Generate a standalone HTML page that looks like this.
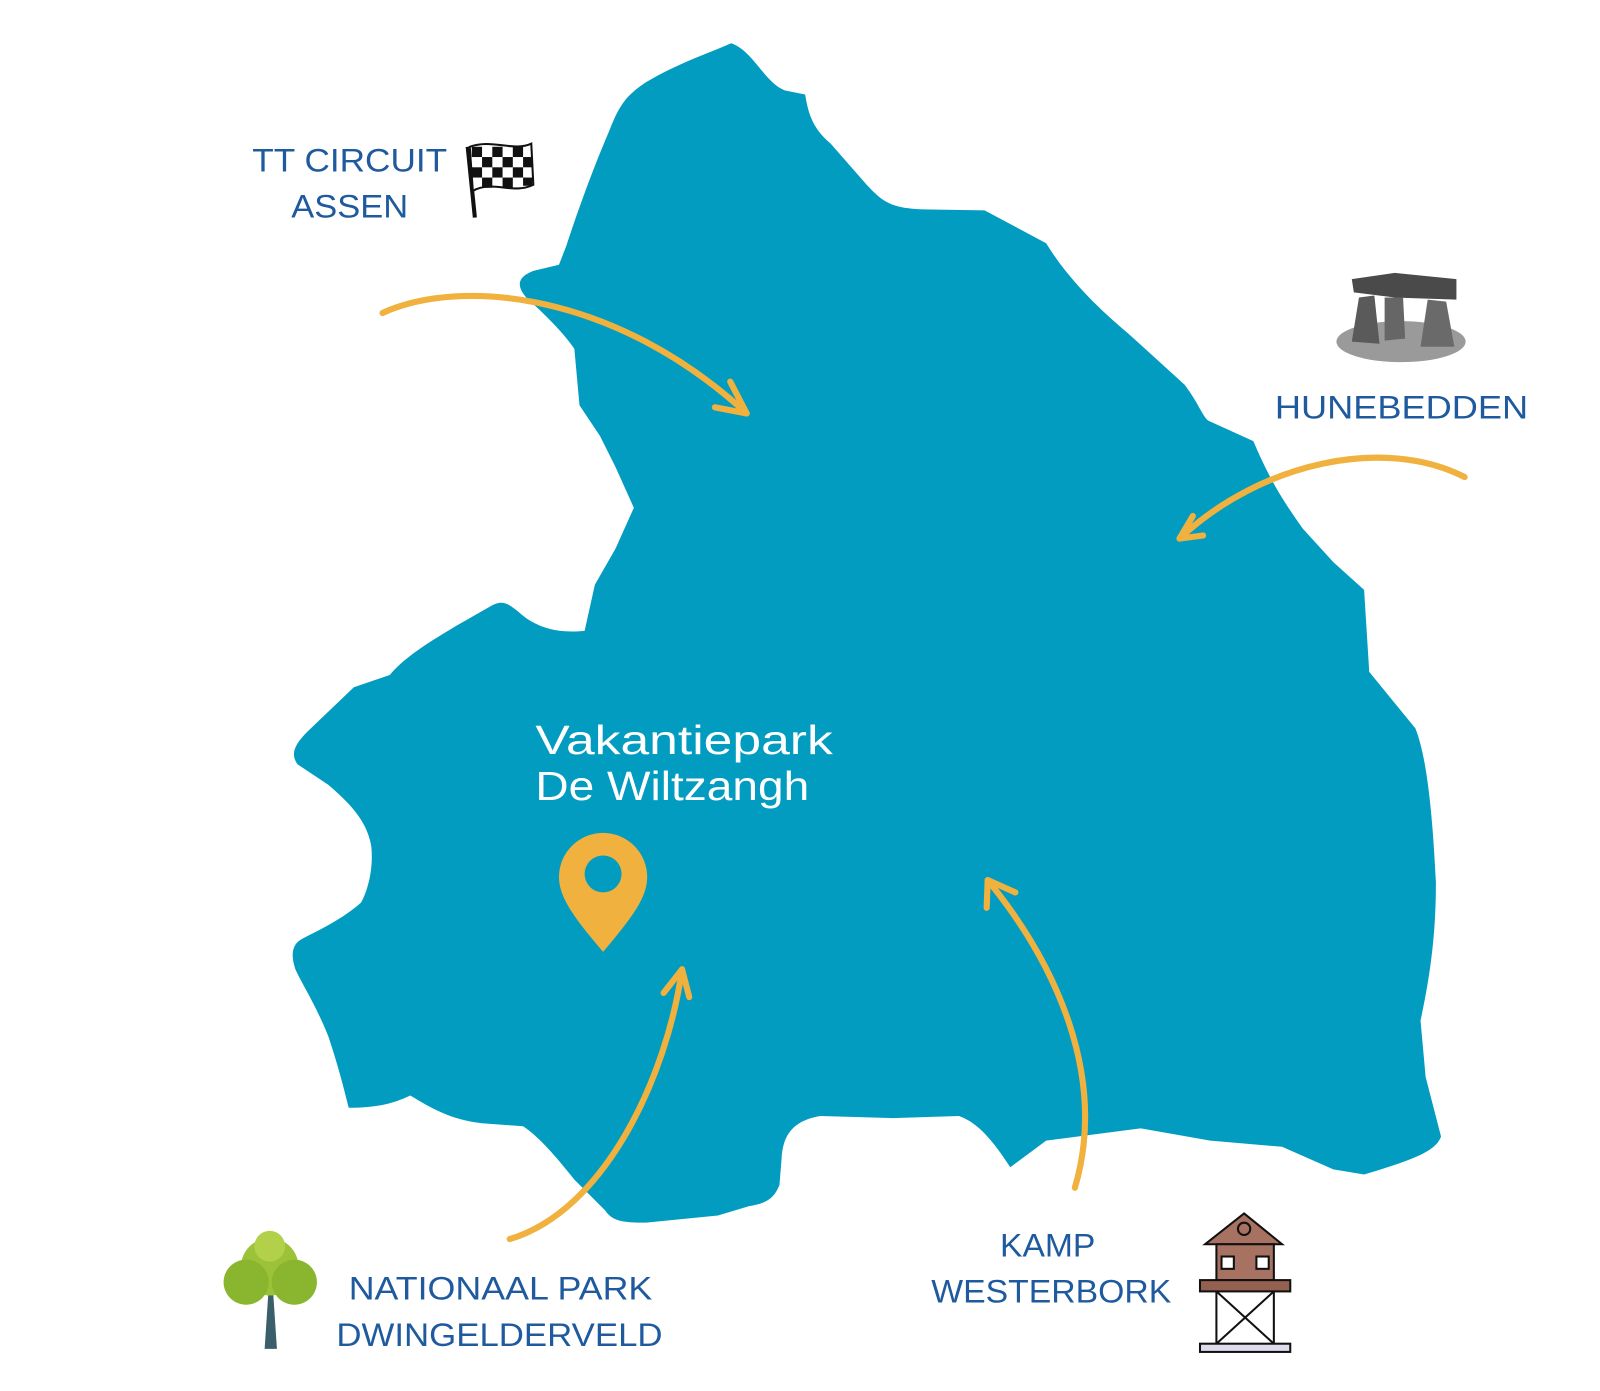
<!DOCTYPE html>
<html><head><style>
html,body{margin:0;padding:0;background:#fff;}
svg{display:block;}
text{font-family:"Liberation Sans",sans-serif;}
</style></head><body>
<svg width="1600" height="1391" viewBox="0 0 1560 1356" xmlns="http://www.w3.org/2000/svg">
<path fill="#029cc0" d="M713,42 C735,50 745,80 765,88 L785,92 C788,110 792,125 810,140 L845,180 C860,196 868,203 900,204 L960,205 L1020,237 C1040,270 1070,300 1100,325 L1155,375 C1168,392 1172,405 1178,410 L1222,430 C1235,460 1245,480 1270,515 L1300,548 L1330,575 L1335,655 L1380,710 C1392,740 1397,800 1400,860 C1400,900 1397,940 1385,995 L1390,1050 L1405,1108 C1400,1122 1380,1130 1330,1145 L1300,1140 L1250,1118 L1180,1112 L1112,1100 L1020,1112 L985,1138 C970,1115 955,1095 935,1088 L870,1090 L800,1088 C775,1092 763,1105 762,1130 L760,1155 C755,1168 748,1173 730,1176 L700,1185 L630,1192 C605,1192 597,1190 590,1180 L560,1150 C540,1125 525,1108 510,1098 L470,1095 C440,1092 420,1080 400,1068 C385,1075 370,1080 340,1080 C335,1060 330,1040 320,1010 C308,980 295,960 288,945 C283,930 285,920 295,915 C315,905 335,895 352,880 C360,865 364,845 362,825 C358,800 340,782 320,765 L290,745 C283,735 287,726 300,713 L345,670 L380,658 C395,640 420,625 445,610 L480,590 C490,585 495,588 505,596 C520,610 540,618 570,615 L580,570 L600,535 L618,495 L600,455 L585,425 L565,395 L560,340 C550,325 530,305 515,292 C502,278 505,270 520,264 L545,258 L552,240 C565,200 580,160 595,125 C605,100 612,92 630,80 C660,62 690,52 713,42 Z"/>
<g fill="none" stroke="#f0b13e" stroke-width="6" stroke-linecap="round" stroke-linejoin="round">
<path d="M373,305 C450,270 600,285 728,403"/>
<path d="M712,372 L728,403 L697,397"/>
<path d="M1428,465 C1350,425 1230,450 1150,525"/>
<path d="M1163,503 L1150,525 L1173,522"/>
<path d="M497,1208 C590,1180 650,1050 665,945"/>
<path d="M647,968 L665,945 L672,972"/>
<path d="M1048,1158 C1080,1050 1030,940 963,858"/>
<path d="M962,885 L963,858 L990,870"/>
</g>
<path fill="#f0b13e" d="M588,928 C560,895 545,875 545,855 A43,43 0 0 1 631,855 C631,875 616,895 588,928 Z"/>
<circle cx="588" cy="852" r="18" fill="#029cc0"/>
<g fill="#fff" font-size="40"><text x="522" y="735" textLength="290" lengthAdjust="spacingAndGlyphs">Vakantiepark</text><text x="522" y="780" textLength="267" lengthAdjust="spacingAndGlyphs">De Wiltzangh</text></g>
<g fill="#1f5a9e" font-size="32" lengthAdjust="spacingAndGlyphs">
<text x="246" y="167" textLength="190" lengthAdjust="spacingAndGlyphs">TT CIRCUIT</text><text x="284" y="212" textLength="114" lengthAdjust="spacingAndGlyphs">ASSEN</text>
<text x="1243" y="408" textLength="247" lengthAdjust="spacingAndGlyphs">HUNEBEDDEN</text>
<text x="975" y="1225" textLength="93" lengthAdjust="spacingAndGlyphs">KAMP</text><text x="908" y="1270" textLength="234" lengthAdjust="spacingAndGlyphs">WESTERBORK</text>
<text x="340" y="1267" textLength="296" lengthAdjust="spacingAndGlyphs">NATIONAAL PARK</text><text x="328" y="1312" textLength="318" lengthAdjust="spacingAndGlyphs">DWINGELDERVELD</text>
</g>
<!-- flag -->
<line x1="456" y1="143" x2="463" y2="212" stroke="#111" stroke-width="4"/>
<path d="M458,143 C480,135 500,148 518,140 L520,180 C500,190 480,175 461,186 Z" fill="#fff" stroke="#111" stroke-width="2"/>
<g fill="#111">
<rect x="460" y="143" width="10" height="10"/><rect x="480" y="143" width="10" height="10"/><rect x="500" y="143" width="10" height="10"/>
<rect x="470" y="153" width="10" height="10"/><rect x="490" y="153" width="10" height="10"/><rect x="510" y="153" width="9" height="10"/>
<rect x="460" y="163" width="10" height="10"/><rect x="480" y="163" width="10" height="10"/><rect x="500" y="163" width="10" height="10"/>
<rect x="470" y="173" width="10" height="10"/><rect x="490" y="173" width="10" height="10"/><rect x="510" y="173" width="9" height="8"/>
</g>
<!-- dolmen -->
<ellipse cx="1366" cy="333" rx="63" ry="20" fill="#9a9a9a"/>
<path d="M1318,272 L1360,266 L1420,272 L1420,292 L1360,290 L1320,285 Z" fill="#4a4a4a"/>
<path d="M1325,290 L1340,288 L1345,335 L1318,333 Z" fill="#5a5a5a"/>
<path d="M1350,290 L1368,290 L1370,330 L1350,332 Z" fill="#666"/>
<path d="M1392,292 L1410,294 L1418,338 L1385,338 Z" fill="#6a6a6a"/>
<!-- tree -->
<path d="M258,1315 L262,1255 L266,1255 L270,1315 Z" fill="#3b5f6a"/>
<circle cx="263" cy="1235" r="28" fill="#9cc23a"/><circle cx="240" cy="1250" r="22" fill="#8ab52e"/><circle cx="287" cy="1250" r="22" fill="#8ab52e"/><circle cx="263" cy="1215" r="15" fill="#b2d04a"/>
<!-- tower -->
<g stroke="#111" stroke-width="2">
<path d="M1175,1213 L1213,1183 L1250,1213 Z" fill="#a87262"/>
<circle cx="1213" cy="1198" r="6" fill="#a87262"/>
<rect x="1186" y="1213" width="56" height="35" fill="#a87262"/>
<rect x="1191" y="1225" width="12" height="12" fill="#fff"/><rect x="1225" y="1225" width="12" height="12" fill="#fff"/>
<rect x="1170" y="1248" width="88" height="11" fill="#946050"/>
<path d="M1186,1259 V1310 M1242,1259 V1310 M1186,1259 L1242,1310 M1242,1259 L1186,1310" fill="none"/>
<rect x="1170" y="1310" width="88" height="8" fill="#dde"/>
</g>
</svg>
</body></html>
